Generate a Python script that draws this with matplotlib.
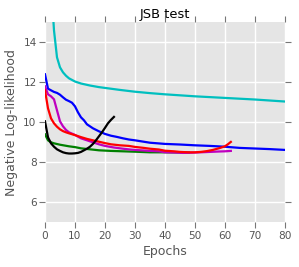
import matplotlib
matplotlib.use("Agg")
import matplotlib.pyplot as plt

# ---- data ----
cyan_ep = [2, 3, 4, 5, 6, 7, 8, 10, 12, 15, 18, 20, 25, 30, 35, 40, 45, 50, 55, 60, 65, 70, 75, 80]
cyan_val = [17.0, 14.6, 13.25, 12.75, 12.5, 12.33, 12.2, 12.04, 11.94, 11.84, 11.76, 11.72, 11.62,
            11.53, 11.46, 11.4, 11.35, 11.3, 11.26, 11.22, 11.18, 11.14, 11.09, 11.04]

blue_ep = [0, 1, 2, 3, 4, 5, 6, 7, 8, 9, 10, 11, 12, 13, 14, 15, 16, 18, 20, 22, 24, 26, 28, 30,
           35, 40, 45, 50, 55, 60, 65, 70, 75, 80]
blue_val = [12.4, 11.68, 11.6, 11.52, 11.47, 11.38, 11.25, 11.13, 11.06, 10.98, 10.8, 10.5, 10.25,
            10.1, 9.9, 9.8, 9.7, 9.55, 9.42, 9.33, 9.27, 9.2, 9.14, 9.1, 8.98, 8.92, 8.89, 8.85,
            8.82, 8.78, 8.72, 8.69, 8.66, 8.62]

green_ep = [0, 1, 2, 3, 5, 8, 10, 12, 15, 18, 22, 26, 30, 35, 40, 45, 48]
green_val = [9.4, 9.1, 9.0, 8.95, 8.88, 8.8, 8.76, 8.7, 8.65, 8.6, 8.57, 8.55, 8.53, 8.5, 8.5, 8.49, 8.49]

magenta_ep = [0, 1, 2, 3, 4, 5, 6, 7, 8, 10, 12, 14, 16, 18, 20, 23, 26, 29, 32, 35, 38, 40, 43,
              46, 49, 52, 55, 58, 60, 62]
magenta_val = [11.8, 11.4, 11.3, 11.15, 10.6, 10.05, 9.8, 9.62, 9.5, 9.37, 9.2, 9.1, 9.0, 8.9, 8.82,
               8.74, 8.68, 8.63, 8.6, 8.57, 8.55, 8.5, 8.49, 8.47, 8.48, 8.5, 8.52, 8.54, 8.55, 8.57]

red_ep = [0, 1, 2, 3, 4, 5, 6, 7, 8, 10, 12, 14, 16, 18, 20, 22, 25, 28, 30, 33, 35, 38, 40, 43, 45,
          48, 50, 52, 54, 56, 58, 60, 61, 62]
red_val = [11.6, 10.7, 10.2, 9.95, 9.78, 9.65, 9.56, 9.5, 9.45, 9.36, 9.26, 9.17, 9.1, 9.03, 8.96,
           8.9, 8.85, 8.82, 8.77, 8.72, 8.68, 8.64, 8.58, 8.55, 8.52, 8.5, 8.5, 8.52, 8.56, 8.62,
           8.7, 8.8, 8.9, 9.02]

black_ep = list(range(0, 24))
black_val = [10.05, 9.25, 8.95, 8.78, 8.65, 8.57, 8.5, 8.46, 8.44, 8.44, 8.45, 8.47, 8.52, 8.6,
             8.68, 8.78, 8.92, 9.1, 9.3, 9.5, 9.72, 9.95, 10.12, 10.27]

x_ticks = [0, 10, 20, 30, 40, 50, 60, 70, 80]
y_ticks = [6, 8, 10, 12, 14]

# ---- figure ----
fig = plt.figure(figsize=(2.99, 2.67), dpi=100)
ax = fig.add_axes([0.1505, 0.1674, 0.802, 0.749])
ax.set_facecolor('#E5E5E5')
for s in ax.spines.values():
    s.set_visible(False)
ax.set_axisbelow(True)
ax.grid(True, color='white', linewidth=1.0)

lw = 1.6
ax.plot(cyan_ep, cyan_val, color=(0, 0.75, 0.75), lw=lw)
ax.plot(blue_ep, blue_val, color=(0, 0, 1), lw=lw)
ax.plot(green_ep, green_val, color=(0, 0.5, 0), lw=lw)
ax.plot(magenta_ep, magenta_val, color=(0.75, 0, 0.75), lw=lw)
ax.plot(red_ep, red_val, color=(1, 0, 0), lw=lw)
ax.plot(black_ep, black_val, color='black', lw=lw)

ax.set_xlim(0, 80)
ax.set_ylim(5, 15)
ax.set_xticks(x_ticks)
ax.set_yticks(y_ticks)
ax.tick_params(axis='both', direction='out', length=4, width=0.8, color='#777777',
               labelcolor='#555555', labelsize=7.6, pad=2,
               top=True, right=True, labeltop=False, labelright=False)

ax.set_xlabel('Epochs', fontsize=9, color='#555555', labelpad=3)
ax.set_ylabel('Negative Log-likelihood', fontsize=9, color='#555555', labelpad=4)
ax.set_title('JSB test', fontsize=9.4, color='black', pad=3)

fig.savefig('out.png', dpi=100)
